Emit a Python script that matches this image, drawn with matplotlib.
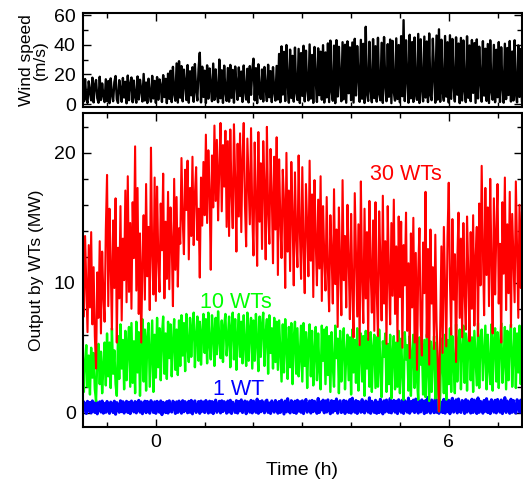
import numpy as np
import matplotlib
matplotlib.use("Agg")
import matplotlib.pyplot as plt
from matplotlib.ticker import MultipleLocator

plt.rcParams['font.family'] = ['Liberation Sans', 'DejaVu Sans']

# sampling of the records (h)
t_start = -1.5
t_step = 0.025

# wind speed (m/s)
wind = [
    14.6, 1.8, 16.9, 3.2, 0.7, 15.3, 8.4, 2.5, 17.8, 1.1, 12.7, 16.2, 4.0, 0.9, 18.4, 2.7, 13.9, 5.6, 1.3, 16.7,
    2.0, 15.5, 0.6, 17.3, 6.1, 1.9, 14.8, 18.9, 3.3, 0.8, 16.1, 10.2, 1.5, 17.6, 4.4, 15.0, 0.5, 19.2, 2.6, 13.4,
    17.9, 1.2, 15.8, 5.0, 0.9, 18.6, 3.1, 16.4, 9.7, 1.7, 20.3, 2.4, 14.5, 0.7, 17.1, 6.3, 1.6, 19.0, 3.8, 15.6,
    0.8, 18.2, 2.9, 16.6, 12.1, 1.4, 19.5, 4.7, 17.0, 0.6, 20.5, 3.5, 22.4, 1.3, 25.1, 6.8, 2.2, 27.4, 1.0, 28.9,
    4.3, 25.6, 1.8, 23.2, 14.6, 2.7, 26.3, 0.9, 22.1, 5.9, 24.8, 1.5, 27.0, 9.2, 2.4, 23.7, 34.6, 1.1, 25.2, 4.8,
    22.5, 0.7, 26.1, 3.6, 24.0, 11.8, 1.9, 27.3, 2.8, 23.4, 6.5, 1.2, 30.0, 3.9, 22.8, 0.8, 25.9, 7.7, 2.1, 24.3,
    1.6, 26.4, 4.2, 23.0, 0.9, 25.3, 13.5, 2.8, 24.7, 5.4, 21.9, 1.4, 26.0, 8.6, 3.0, 23.8, 1.1, 25.6, 6.2, 22.6,
    30.6, 2.5, 24.2, 0.6, 26.8, 7.1, 3.4, 23.3, 1.7, 25.0, 10.4, 2.0, 26.5, 4.6, 22.2, 1.3, 24.9, 8.0, 2.3, 25.7,
    3.1, 33.8, 1.2, 38.9, 6.4, 35.2, 2.0, 39.8, 14.2, 0.9, 36.7, 4.1, 32.5, 1.6, 38.1, 7.8, 2.7, 37.2, 0.7, 34.4,
    5.5, 39.3, 1.8, 36.0, 9.9, 2.4, 40.2, 3.7, 33.1, 0.8, 38.5, 16.4, 1.4, 37.6, 6.0, 35.3, 2.9, 39.7, 1.0, 34.8,
    4.5, 40.9, 1.3, 42.8, 8.7, 2.2, 39.4, 0.6, 43.1, 5.1, 38.6, 15.0, 1.9, 41.7, 3.2, 40.0, 0.9, 42.3, 7.3, 38.2,
    2.6, 41.5, 1.0, 44.0, 5.8, 39.1, 18.2, 1.5, 43.3, 3.6, 40.6, 0.7, 52.1, 6.9, 2.1, 42.0, 9.5, 1.2, 43.8, 4.0,
    39.0, 1.6, 44.7, 6.6, 2.5, 41.3, 0.8, 45.2, 12.8, 1.9, 40.4, 4.9, 43.5, 0.6, 42.6, 8.1, 2.3, 44.3, 3.4, 39.8,
    1.1, 45.8, 5.3, 56.6, 2.0, 43.0, 17.6, 0.9, 46.7, 3.9, 41.8, 1.4, 44.9, 7.4, 2.8, 47.3, 0.7, 43.7, 10.6, 1.8,
    45.5, 4.4, 42.2, 1.3, 47.6, 6.0, 2.6, 44.1, 19.3, 0.9, 46.2, 3.0, 50.4, 1.5, 43.4, 8.8, 2.2, 45.9, 5.0, 41.7,
    1.0, 46.4, 3.5, 43.9, 12.0, 1.7, 45.0, 6.3, 40.8, 0.6, 44.6, 2.4, 42.9, 9.1, 1.3, 45.7, 4.2, 39.5, 1.9, 43.2,
    7.5, 41.1, 0.8, 43.6, 3.8, 38.7, 14.9, 1.6, 42.4, 5.7, 37.3, 2.1, 40.5, 0.7, 43.0, 8.4, 2.9, 39.9, 1.2, 36.6,
    4.6, 41.8, 1.4, 38.3, 10.9, 0.9, 40.7, 3.3, 37.8, 6.1, 42.5, 1.7, 35.4, 2.4, 43.0, 7.2, 1.1, 39.6, 4.8, 37.1, 2.0,
]

# output of 30 wind turbines (MW)
out30 = [
    12.1, 7.4, 13.6, 9.8, 6.2, 12.9, 8.1, 13.9, 6.8, 11.2, 5.9, 3.4, 10.8, 7.3, 13.2, 6.1, 12.4, 9.0, 7.0, 14.1,
    18.3, 8.2, 15.7, 11.3, 6.4, 14.8, 9.6, 16.5, 5.4, 12.7, 8.8, 15.9, 7.1, 13.4, 10.2, 17.1, 8.5, 18.2, 9.3, 14.6,
    8.0, 16.2, 11.9, 20.5, 9.4, 17.3, 7.6, 13.8, 5.4, 11.6, 15.2, 8.7, 17.6, 10.5, 14.3, 7.9, 20.4, 12.2, 9.1, 18.1,
    8.6, 17.4, 11.8, 9.3, 16.1, 12.5, 18.4, 8.8, 14.7, 10.3, 17.0, 9.5, 15.8, 13.1, 8.2, 18.0, 11.0, 16.6, 9.7, 14.2,
    13.0, 19.6, 14.9, 12.2, 18.7, 15.6, 19.4, 11.8, 17.3, 13.6, 19.7, 12.9, 16.8, 18.9, 13.3, 15.7, 10.4, 18.1, 14.4, 19.3,
    15.2, 21.4, 14.6, 20.2, 17.1, 11.0, 19.8, 15.8, 22.1, 16.3, 21.0, 14.8, 18.9, 22.3, 15.5, 20.6, 17.4, 21.7, 14.3, 20.9,
    13.6, 21.8, 16.9, 14.2, 22.2, 18.0, 12.4, 20.7, 15.1, 21.5, 13.9, 19.6, 22.3, 16.0, 12.8, 21.1, 17.7, 14.5, 21.9, 15.3,
    12.1, 20.8, 16.4, 11.3, 21.6, 14.7, 19.2, 12.6, 20.9, 17.5, 11.8, 22.0, 15.4, 13.0, 20.3, 16.8, 11.5, 19.7, 14.1, 21.2,
    10.6, 19.5, 14.8, 11.9, 18.7, 16.3, 9.6, 20.0, 12.4, 17.1, 10.9, 19.3, 15.2, 9.8, 18.5, 13.5, 11.2, 19.8, 14.0, 10.3,
    18.9, 12.8, 9.2, 17.6, 14.4, 10.5, 19.4, 11.7, 16.8, 8.9, 17.9, 13.2, 9.8, 16.4, 11.1, 18.2, 8.6, 15.9, 12.0, 9.4,
    16.6, 10.9, 7.8, 15.2, 12.3, 8.4, 17.2, 9.9, 14.1, 6.6, 15.8, 11.4, 7.5, 17.9, 10.2, 13.6, 8.1, 16.0, 11.8, 7.2,
    15.3, 9.6, 5.8, 16.9, 12.1, 7.4, 14.5, 5.2, 17.8, 10.4, 6.9, 15.7, 8.8, 13.9, 5.6, 16.3, 11.0, 7.7, 14.8, 6.3,
    16.2, 9.3, 5.9, 15.5, 11.7, 7.1, 16.7, 8.4, 13.2, 5.3, 15.9, 10.6, 6.8, 14.6, 9.0, 16.4, 7.6, 12.8, 5.5, 15.1,
    8.9, 14.7, 5.0, 12.9, 9.8, 15.4, 6.3, 11.5, 4.2, 13.8, 8.1, 15.0, 5.4, 12.3, 3.3, 10.9, 14.2, 6.7, 4.4, 13.1,
    9.2, 17.0, 5.8, 12.6, 3.7, 14.1, 8.4, 11.2, 4.9, 13.7, 7.0, 3.9, 0.1, 6.5, 12.8, 4.6, 14.3, 9.7, 5.1, 13.5,
    17.7, 10.1, 6.0, 14.9, 8.7, 12.2, 3.9, 11.6, 15.4, 7.3, 13.4, 5.8, 14.6, 9.2, 6.4, 15.1, 10.8, 5.5, 13.9, 8.0,
    15.2, 6.7, 11.9, 14.3, 5.9, 16.1, 9.8, 19.0, 12.4, 7.5, 17.3, 10.6, 15.8, 8.2, 18.0, 11.5, 6.1, 16.5, 9.1, 14.0,
    17.6, 8.4, 13.0, 5.4, 16.2, 10.7, 18.1, 7.9, 14.5, 9.2, 17.0, 6.6, 15.3, 11.8, 8.5, 17.8, 12.6, 7.3, 16.0, 9.6, 15.4,
]

# output of 10 wind turbines (MW)
out10 = [
    4.8, 1.6, 3.9, 5.2, 2.0, 4.4, 1.4, 5.0, 2.7, 4.6, 1.8, 0.9, 4.1, 5.3, 2.2, 4.7, 1.5, 3.6, 5.4, 2.1,
    6.1, 2.8, 5.4, 1.9, 6.5, 3.0, 4.8, 2.2, 1.3, 5.9, 2.6, 6.8, 3.4, 5.6, 1.8, 6.3, 2.5, 5.1, 6.6, 2.0,
    6.9, 2.3, 5.5, 1.5, 7.0, 3.1, 6.2, 1.3, 4.9, 7.2, 2.4, 6.4, 1.7, 5.8, 6.9, 2.0, 4.6, 7.1, 1.6, 6.0,
    2.7, 7.3, 3.5, 6.5, 2.5, 5.9, 7.4, 3.0, 6.1, 2.6, 7.0, 4.2, 6.8, 2.8, 5.4, 7.2, 3.3, 6.4, 2.9, 7.1,
    3.6, 7.5, 4.4, 6.9, 3.2, 7.6, 5.1, 3.9, 7.3, 4.3, 6.6, 7.7, 3.5, 5.8, 7.4, 4.0, 7.0, 3.7, 6.2, 7.6,
    4.6, 7.2, 3.8, 7.7, 5.3, 4.1, 7.5, 6.0, 3.6, 7.3, 4.5, 7.8, 5.6, 4.2, 7.1, 3.9, 6.7, 7.6, 4.4, 5.7,
    7.4, 3.5, 6.6, 7.7, 4.1, 7.2, 3.3, 5.9, 7.6, 4.3, 7.0, 3.8, 7.5, 5.2, 3.6, 7.7, 4.0, 6.4, 7.3, 3.4,
    7.1, 4.0, 7.6, 5.5, 3.2, 7.4, 4.3, 6.8, 7.7, 3.6, 6.1, 7.2, 3.0, 7.5, 4.6, 6.5, 3.4, 7.3, 3.9, 7.0,
    3.3, 7.1, 4.8, 2.4, 6.8, 3.1, 7.2, 5.3, 2.6, 6.6, 3.5, 6.9, 2.2, 5.7, 7.0, 3.0, 6.5, 2.8, 4.4, 6.7,
    2.4, 6.9, 3.6, 6.2, 1.9, 5.5, 6.8, 2.8, 6.3, 2.1, 4.7, 6.6, 2.5, 6.1, 3.3, 1.8, 6.7, 4.0, 6.4, 2.2,
    6.6, 2.9, 5.9, 1.6, 6.2, 3.6, 2.0, 6.7, 4.2, 5.7, 1.5, 6.3, 2.4, 5.2, 6.5, 1.8, 4.5, 6.0, 2.5, 5.8,
    1.4, 6.4, 3.1, 5.6, 2.3, 6.5, 1.7, 4.8, 6.1, 2.4, 5.9, 1.3, 6.3, 3.4, 5.7, 2.0, 6.2, 1.6, 5.0, 6.0,
    1.9, 5.8, 2.0, 6.4, 3.6, 1.2, 5.5, 4.3, 6.1, 1.6, 5.3, 2.2, 6.0, 1.1, 4.7, 5.9, 1.8, 5.4, 2.0, 6.3,
    1.5, 5.7, 3.2, 1.0, 6.2, 4.1, 5.2, 1.7, 5.9, 1.3, 4.5, 6.0, 1.9, 5.4, 2.6, 1.0, 5.8, 3.7, 5.3, 1.4,
    5.6, 1.2, 6.0, 3.4, 0.9, 5.5, 1.6, 4.6, 5.9, 1.1, 5.4, 2.8, 0.1, 1.3, 5.7, 3.9, 1.5, 6.0, 1.0, 5.6,
    2.2, 6.5, 1.6, 5.9, 3.8, 1.5, 6.8, 2.4, 5.6, 6.4, 1.8, 4.9, 6.7, 2.3, 6.1, 1.7, 5.4, 6.6, 2.5, 5.8,
    1.6, 6.3, 4.2, 2.1, 6.9, 1.9, 5.7, 6.4, 2.5, 4.6, 6.7, 1.8, 6.0, 3.5, 2.2, 6.8, 1.7, 5.5, 6.5, 2.4,
    6.2, 1.9, 5.3, 6.9, 2.3, 4.0, 6.6, 1.8, 6.3, 2.5, 5.7, 6.8, 2.0, 4.4, 6.5, 1.9, 6.1, 3.1, 6.7, 2.2, 6.3,
]

# output of 1 wind turbine (MW)
out1 = [
    0.04, 0.83, 0.45, -0.06, 0.88, 0.12, 0.79, -0.02, 0.91, 0.30, 0.02, 0.86, -0.09, 0.62, 0.84, 0.05, 0.90, -0.04, 0.71, 0.03,
    0.87, 0.21, -0.05, 0.82, 0.56, 0.01, 0.89, -0.12, 0.78, 0.38, 0.03, 0.92, 0.08, 0.85, -0.03, 0.66, 0.88, 0.02, 0.81, -0.07,
    0.90, 0.27, 0.06, 0.86, -0.02, 0.74, 0.95, 0.04, 0.83, -0.08, 0.52, 0.89, 0.00, 0.87, 0.15, -0.04, 0.93, 0.41, 0.02, 0.84,
    -0.05, 0.88, 0.33, 0.03, 0.91, -0.15, 0.80, 0.58, 0.01, 0.86, -0.03, 0.92, 0.18, 0.05, 0.89, 0.69, -0.06, 0.84, 0.02, 0.90,
    0.24, -0.04, 0.93, 0.07, 0.85, 0.47, -0.01, 0.88, 0.03, 0.95, -0.09, 0.77, 0.91, 0.02, 0.36, 0.86, -0.05, 0.90, 0.11, 0.83,
    0.01, 0.94, 0.55, -0.03, 0.89, 0.04, 0.86, -0.07, 0.72, 0.97, 0.03, 0.29, 0.88, -0.02, 0.92, 0.09, 0.85, 0.61, -0.04, 0.90,
    0.05, 0.96, -0.06, 0.81, 0.40, 0.02, 0.93, -0.03, 0.87, 0.14, 0.99, 0.01, 0.68, 0.90, -0.08, 0.84, 0.26, 0.04, 0.95, -0.02,
    0.89, 0.50, 0.03, 1.05, -0.05, 0.86, 0.07, 0.92, 0.33, -0.01, 0.88, 0.97, 0.02, 0.75, -0.06, 0.91, 0.19, 0.04, 0.94, 0.60,
    -0.04, 0.87, 0.02, 0.97, 0.44, -0.10, 0.90, 0.06, 1.08, 0.23, -0.02, 0.93, 0.65, 0.01, 0.89, -0.05, 0.96, 0.12, 0.85, 0.03,
    0.92, -0.07, 0.70, 1.02, 0.04, 0.37, 0.90, -0.03, 0.95, 0.08, 0.88, 0.54, -0.05, 1.10, 0.02, 0.83, 0.21, 0.97, -0.01, 0.91,
    0.05, 0.99, 0.46, -0.08, 0.93, 0.03, 0.87, 0.16, 1.06, -0.04, 0.78, 0.92, 0.01, 0.31, 0.95, -0.06, 0.89, 0.63, 0.02, 1.01,
    -0.03, 1.12, 0.27, 0.04, 0.94, -0.06, 0.86, 0.57, 0.03, 1.01, 0.10, -0.02, 0.90, 0.74, 0.04, 1.15, -0.05, 0.88, 0.35, 0.02,
    0.96, -0.05, 0.82, 0.01, 1.04, 0.43, -0.09, 0.92, 0.06, 0.98, 0.20, 0.02, 1.09, -0.02, 0.67, 0.95, 0.04, 0.89, -0.07, 1.00,
    0.30, 0.03, 0.97, -0.06, 0.93, 0.52, 0.04, 1.13, -0.04, 0.85, 0.13, 0.97, 0.01, 1.05, 0.39, -0.03, 0.91, 0.06, 0.99, 0.71,
    -0.07, 0.94, 0.02, 1.18, 0.25, -0.03, 0.98, 0.60, 0.00, 1.07, 0.03, 0.95, -0.05, 0.88, 0.34, 0.01, 1.03, -0.04, 0.92, 0.08,
    0.96, -0.08, 0.79, 1.11, 0.04, 0.48, 0.99, -0.02, 1.06, 0.15, 0.02, 0.94, 0.66, -0.06, 1.01, 0.05, 0.90, 0.28, -0.03, 1.04,
    0.02, 0.97, 0.41, -0.06, 1.14, 0.03, 0.88, 0.58, -0.04, 0.95, 0.11, 1.08, 0.01, 0.83, -0.07, 1.00, 0.36, 0.04, 0.96, -0.02,
    1.02, 0.22, 0.04, 0.98, -0.07, 0.73, 1.16, 0.02, 0.90, 0.45, -0.05, 1.04, 0.03, 0.94, 0.17, -0.03, 1.00, 0.62, 0.05, 0.97, 0.03,
]


def times(series):
    return t_start + t_step * np.arange(len(series))


fig = plt.figure(figsize=(5.23, 4.82), dpi=100)
ax1 = fig.add_axes([0.158, 0.7786, 0.84, 0.1938])
ax2 = fig.add_axes([0.158, 0.1141, 0.84, 0.651])

ax1.plot(times(wind), wind, color='black', lw=1.7)
ax2.plot(times(out1), out1, color='#0000ff', lw=2.2)
ax2.plot(times(out10), out10, color='#00ff00', lw=1.7)
ax2.plot(times(out30), out30, color='#ff0000', lw=1.5)

for ax in (ax1, ax2):
    ax.set_xlim(-1.5, 7.5)
    ax.xaxis.set_major_locator(MultipleLocator(6))
    ax.xaxis.set_minor_locator(MultipleLocator(1))
    ax.tick_params(which='both', direction='in', top=True, right=True,
                   labelsize=14, width=1.0, pad=5)
    ax.tick_params(which='major', length=6)
    ax.tick_params(which='minor', length=3.5)
    for s in ax.spines.values():
        s.set_linewidth(1.5)
        s.set_zorder(5)

ax1.set_ylim(-1.8, 61.2)
ax1.yaxis.set_major_locator(MultipleLocator(20))
ax1.yaxis.set_minor_locator(MultipleLocator(10))
ax1.tick_params(labelbottom=False)
ax1.set_ylabel('Wind speed\n(m/s)', fontsize=12.5, linespacing=0.95, labelpad=4)

ax2.set_ylim(-1.1, 23.05)
ax2.yaxis.set_major_locator(MultipleLocator(10))
ax2.yaxis.set_minor_locator(MultipleLocator(2))
ax2.set_ylabel('Output by WTs (MW)', fontsize=12.5, labelpad=7)
ax2.set_xlabel('Time (h)', fontsize=14, labelpad=8)

ax2.text(5.12, 18.3, '30 WTs', color='#ff0000', fontsize=15.5, ha='center', va='center')
ax2.text(1.64, 8.5, '10 WTs', color='#00ff00', fontsize=15.5, ha='center', va='center')
ax2.text(1.69, 1.8, '1 WT', color='#0000ff', fontsize=15.5, ha='center', va='center')

fig.savefig('out.png', dpi=100)
